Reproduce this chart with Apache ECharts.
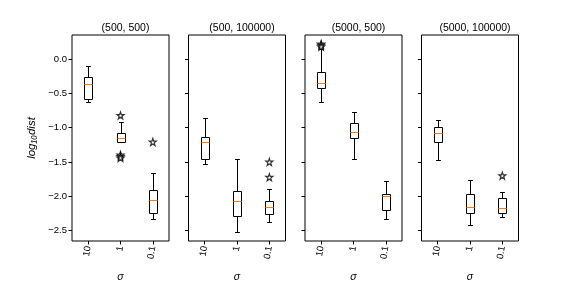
<!DOCTYPE html>
<html>
<head>
<meta charset="utf-8">
<script src="https://cdn.jsdelivr.net/npm/echarts@6/dist/echarts.min.js"></script>
<style>html,body{margin:0;padding:0;background:#fff}#c{width:576px;height:288px}</style>
</head>
<body>
<div id="c"></div>
<script>
// ---- data ----
const categories = ['10', '1', '0.1'];
const panelTitles = ['(500, 500)', '(500, 100000)', '(5000, 500)', '(5000, 100000)'];
const yTickValues = [-2.5, -2.0, -1.5, -1.0, -0.5, 0.0];
// [min, q1, median, q3, max] per sigma category
const stats_500_500 = [
  [-0.632, -0.576, -0.369, -0.258, -0.105],
  [-1.214, -1.204, -1.144, -1.075, -0.923],
  [-2.335, -2.240, -2.060, -1.910, -1.660]
];
const stats_500_100000 = [
  [-1.532, -1.449, -1.214, -1.135, -0.854],
  [-2.515, -2.280, -2.072, -1.920, -1.449],
  [-2.377, -2.252, -2.155, -2.072, -1.893]
];
const stats_5000_500 = [
  [-0.632, -0.424, -0.355, -0.189, 0.150],
  [-1.449, -1.144, -1.061, -0.937, -0.770],
  [-2.335, -2.197, -1.999, -1.961, -1.781]
];
const stats_5000_100000 = [
  [-1.477, -1.214, -1.075, -0.992, -0.881],
  [-2.418, -2.238, -2.155, -1.961, -1.767],
  [-2.294, -2.238, -2.169, -2.017, -1.934]
];
// outliers: [category index, value]
const out_500_500 = [[1, -0.821], [1, -1.395], [1, -1.420], [1, -1.440], [2, -1.209]];
const out_500_100000 = [[2, -1.500], [2, -1.722]];
const out_5000_500 = [[0, 0.220], [0, 0.200], [0, 0.180]];
const out_5000_100000 = [[2, -1.698]];

const allStats = [stats_500_500, stats_500_100000, stats_5000_500, stats_5000_100000];
const allOut = [out_500_500, out_500_100000, out_5000_500, out_5000_100000];

// ---- layout ----
const gridLefts = [72, 188.5, 305, 421.5];
const gridW = 97;
const gridTop = 35, gridH = 217;
const FONT = 'Liberation Sans, Arial, sans-serif';
const starPath = 'path://M12,1 L14.6,8.6 22.5,8.6 16.2,13.4 18.5,21 12,16.4 5.5,21 7.8,13.4 1.5,8.6 9.4,8.6 Z';

function renderBox(params, api) {
  const x = api.value(0);
  const mn = api.value(1), q1 = api.value(2), md = api.value(3), q3 = api.value(4), mx = api.value(5);
  const band = api.size([1, 0])[0];
  const bw = band * 0.3, cw = bw / 2;
  const cx = Math.round(api.coord([x, md])[0]) + 0.5;
  const Y = v => Math.round(api.coord([x, v])[1]) + 0.5;
  const st = { stroke: '#000', lineWidth: 1, fill: null };
  const bx0 = Math.round(cx - bw / 2) + 0.5, bx1 = Math.round(cx + bw / 2) - 0.5;
  return {
    type: 'group',
    children: [
      { type: 'line', shape: { x1: cx, y1: Y(q1), x2: cx, y2: Y(mn) }, style: st },
      { type: 'line', shape: { x1: cx, y1: Y(q3), x2: cx, y2: Y(mx) }, style: st },
      { type: 'line', shape: { x1: cx - cw / 2, y1: Y(mn), x2: cx + cw / 2, y2: Y(mn) }, style: st },
      { type: 'line', shape: { x1: cx - cw / 2, y1: Y(mx), x2: cx + cw / 2, y2: Y(mx) }, style: st },
      { type: 'rect', shape: { x: bx0, y: Y(q3), width: bx1 - bx0, height: Y(q1) - Y(q3) }, style: { stroke: '#000', lineWidth: 1, fill: '#fff' } },
      { type: 'line', shape: { x1: bx0, y1: Y(md), x2: bx1, y2: Y(md) }, style: { stroke: '#ff7f0e', lineWidth: 1 } }
    ]
  };
}

const grids = [], xAxes = [], yAxes = [], series = [], titles = [];
for (let i = 0; i < 4; i++) {
  grids.push({ left: gridLefts[i], top: gridTop, width: gridW, height: gridH, show: true,
    borderColor: '#000', borderWidth: 1, backgroundColor: 'transparent' });
  titles.push({ text: panelTitles[i], left: gridLefts[i] + gridW / 2, top: 18, textAlign: 'center',
    textStyle: { fontFamily: FONT, fontSize: 10.5, fontWeight: 'normal', color: '#000' } });
  xAxes.push({
    type: 'category', gridIndex: i, data: categories, boundaryGap: true, position: 'bottom',
    name: 'σ', nameLocation: 'middle', nameGap: 31,
    nameTextStyle: { fontFamily: FONT, fontSize: 10.5, fontStyle: 'italic', color: '#000' },
    axisLine: { show: false, onZero: false },
    axisTick: { show: true, alignWithLabel: true, length: 3.5, lineStyle: { color: '#000' } },
    axisLabel: { rotate: 80, fontFamily: FONT, fontSize: 9.5, color: '#000', margin: 5, interval: 0 },
    splitLine: { show: false }
  });
  yAxes.push({
    type: 'value', gridIndex: i, min: -2.65, max: 0.35,
    name: i === 0 ? 'log₁₀dist' : '', nameLocation: 'middle', nameGap: 34, nameRotate: 90,
    nameTextStyle: { fontFamily: FONT, fontSize: 11.5, fontStyle: 'italic', color: '#000' },
    axisLine: { show: false, onZero: false },
    axisTick: { show: true, length: 3.5, lineStyle: { color: '#000' }, customValues: yTickValues },
    axisLabel: { show: i === 0, fontFamily: FONT, fontSize: 9.5, color: '#000', margin: 5,
      customValues: yTickValues,
      formatter: v => v.toFixed(1).replace('-', '−') },
    splitLine: { show: false }
  });
  series.push({
    type: 'custom', xAxisIndex: i, yAxisIndex: i,
    data: allStats[i].map((s, k) => [k].concat(s)),
    renderItem: renderBox, z: 2
  });
  series.push({
    type: 'scatter', xAxisIndex: i, yAxisIndex: i,
    data: allOut[i], symbol: starPath, symbolSize: 7,
    itemStyle: { color: '#fff', borderColor: '#000', borderWidth: 1.2 }, z: 3
  });
}

const chart = echarts.init(document.getElementById('c'), null, { renderer: 'canvas' });
chart.setOption({
  animation: false,
  backgroundColor: '#fff',
  title: titles,
  grid: grids,
  xAxis: xAxes,
  yAxis: yAxes,
  series: series
});
</script>
</body>
</html>
